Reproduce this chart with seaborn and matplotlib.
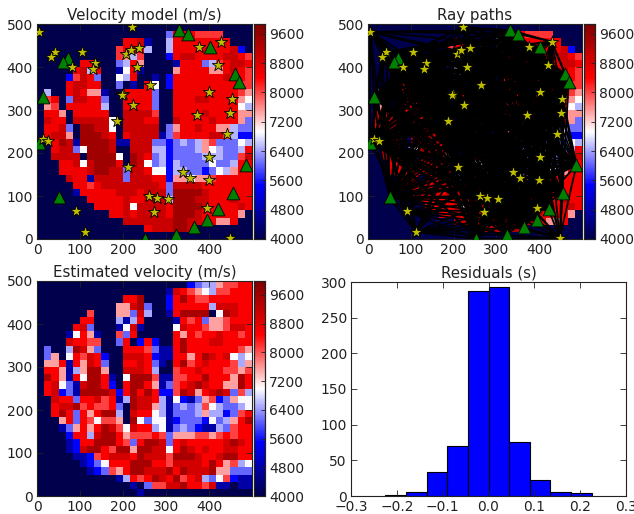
import numpy as np
import matplotlib
matplotlib.use('Agg')
import matplotlib.pyplot as plt
import seaborn as sns

# velocity levels for the codes used in the grids below (m/s)
levels = [4000, 4750, 5500, 6100, 6500, 6950, 7550, 8100, 8550, 9000, 9500]
codes = '0123456789a'

# rows run from the top of the picture to the bottom, three groups of ten cells
true_rows = [
    "0000000000 0000000000 0000000000",
    "0000000000 0000000038 8877770000",
    "0000000000 0088910048 8888888000",
    "0000000000 0789840048 8888888920",
    "0000000000 0764700028 9988889987",
    "0000008800 0348600001 8883478998",
    "0000089480 0158100006 8888668987",
    "0000279830 0548001028 8888889887",
    "0000899880 0301085028 8888888877",
    "0400898661 0088883008 8888888876",
    "0780399883 0088883008 8899888865",
    "0670888884 0088883008 8888888854",
    "0886088888 0099997008 8889888866",
    "0988099999 5099988009 8888988863",
    "088930aa99 5099999036 8898866433",
    "089960aaa9 8089999137 8888997422",
    "008a91aaaa 9119993323 4346733354",
    "0089935aaa 9009994423 3346543348",
    "0099990aaa a50a983423 3334443379",
    "00088959aa a80a953424 3333533488",
    "00088889aa 9939985524 4332354688",
    "0000988199 9939998826 6566788888",
    "0000088789 9999999839 9998888888",
    "0000018888 899989993a aaa9888888",
    "0000000888 889889994a aa99888988",
    "0000000088 889599998a aaa9888898",
    "0000000000 889899998a aa98888860",
    "0000000000 009999999a a998866800",
    "0000000000 000008999a a900000000",
    "0000000000 0000000000 0000000000",
]

estimated_rows = [
    "0000000000 0000000000 0234467788",
    "0000000000 0000000019 8765477888",
    "0000000000 0088a00028 a877888888",
    "0000000000 0669a30028 8888499988",
    "0000000700 0663940018 aaaa05a988",
    "0000008800 0414800001 8783667888",
    "0000089300 0159100005 9887667998",
    "0000158610 0738000008 6878898878",
    "0000988770 0380282008 a888998888",
    "03004a9630 0088873118 a888888876",
    "0360587982 0099982118 868a989545",
    "0668186983 0088983108 a789888746",
    "0886146aa6 0099984007 8898887767",
    "0a86185aa8 105aaa7117 788a8886a8",
    "0895319aa8 208aa86137 89a98866a8",
    "089231aaaa 928a8a8227 a9689a9374",
    "0098838897 814a998415 2136723655",
    "00899a7877 830a996413 4347543345",
    "008a83868a a409885413 3346442378",
    "0006838757 760a535512 333253468a",
    "000136868a 9759884513 4321143788",
    "000028849a a867778736 6677678788",
    "00001288aa a8738aa938 9888889a98",
    "0000129aa8 7aa6aa9958 a989889988",
    "0000011278 9998a9997a aa9889aa88",
    "0000001235 888aaa8879 9998a86745",
    "0000000123 768aa999a8 a999a66333",
    "0000000000 014878a98a 7894357211",
    "0000000000 0001037799 a887911011",
    "0000000000 0000100000 0000000000",
]

# sources
star_x = [5, 222, 43, 33, 104, 82, 135, 131, 207, 218, 238, 232, 263, 199, 197, 224,
          187, 15, 26, 211, 339, 356, 400, 401, 442, 450, 453, 401, 372, 420, 377, 429,
          261, 278, 304, 271, 395, 90, 111, 448]
star_y = [482, 493, 435, 424, 436, 400, 410, 395, 431, 439, 444, 401, 358, 338, 336, 311,
          274, 233, 229, 168, 156, 141, 137, 191, 245, 293, 325, 342, 289, 405, 447, 459,
          100, 95, 94, 63, 71, 64, 16, 2]

# receivers
tri_x = [331, 351, 403, 460, 469, 487, 455, 422, 395, 365, 324, 252, 51, 5, 15, 71, 61]
tri_y = [486, 477, 446, 384, 365, 172, 106, 69, 44, 27, 9, 1, 97, 224, 331, 421, 411]

# residual histogram
res_edges = [-0.225, -0.18, -0.135, -0.09, -0.045, 0.0, 0.045, 0.09, 0.135, 0.18, 0.225]
res_counts = [1, 6, 33, 70, 288, 293, 76, 22, 6, 4]

W, H = 634, 514
CELL = 500 / 30


def decode(rows):
    # text grid -> velocity array, bottom row first
    vals = [[levels[codes.index(c)] for c in r.replace(' ', '')] for r in rows]
    return np.array(vals)[::-1]


def box(left, top, right, bottom):
    return [left / W, 1 - bottom / H, (right - left) / W, (bottom - top) / H]


def style_axes(ax):
    ax.tick_params(direction='in', length=4, width=0.6, top=True, right=True,
                   bottom=True, left=True, labelsize=10, pad=3, colors='#222222')
    for s in ax.spines.values():
        s.set_visible(True)
        s.set_linewidth(0.8)
        s.set_color('#222222')


def draw_model(grid, ax_box, cax_box, title, vmax, marks=False, rays=False):
    ax = fig.add_axes(box(*ax_box))
    cax = fig.add_axes(box(*cax_box))
    sns.heatmap(grid, ax=ax, cbar_ax=cax, cmap='seismic', vmin=4000, vmax=vmax,
                xticklabels=False, yticklabels=False, rasterized=True)
    ax.set_xlim(0, 30)
    ax.set_ylim(0, 30)
    ax.set_xticks(np.arange(0, 500, 100) / CELL, [str(v) for v in range(0, 500, 100)])
    ax.set_yticks(np.arange(0, 600, 100) / CELL, [str(v) for v in range(0, 600, 100)])
    ax.set_title(title, fontsize=10.8, pad=3, color='#222222')
    style_axes(ax)

    sx = np.array(star_x) / CELL
    sy = np.array(star_y) / CELL
    tx = np.array(tri_x) / CELL
    ty = np.array(tri_y) / CELL
    if rays:
        for a, b in zip(sx, sy):
            for c, d in zip(tx, ty):
                ax.plot([a, c], [b, d], color='k', lw=1.3, zorder=3)
    if marks:
        sns.scatterplot(x=sx, y=sy, ax=ax, marker='*', s=85, color=(0.75, 0.75, 0),
                        edgecolor='k', linewidth=0.6, zorder=5, legend=False)
        sns.scatterplot(x=tx, y=ty, ax=ax, marker='^', s=85, color=(0, 0.5, 0),
                        edgecolor='k', linewidth=0.6, zorder=4, legend=False)

    cax.set_yticks(np.arange(4000, 10000, 800), [str(v) for v in range(4000, 10000, 800)])
    cax.tick_params(direction='in', length=3, width=0.6, labelsize=10, pad=3,
                    right=True, colors='#222222')
    for s in cax.spines.values():
        s.set_visible(True)
        s.set_linewidth(0.8)
        s.set_color('#222222')


fig = plt.figure(figsize=(W / 100, H / 100), dpi=100)

true_grid = decode(true_rows)
est_grid = decode(estimated_rows)

draw_model(true_grid, (37, 24, 252, 239), (254, 24, 265, 239), 'Velocity model (m/s)', 9870, marks=True)
draw_model(true_grid, (368, 24, 582, 239), (584, 24, 595, 239), 'Ray paths', 9870, marks=True, rays=True)
draw_model(est_grid, (37, 281, 252, 496), (254, 281, 265, 496), 'Estimated velocity (m/s)', 9990)

ax = fig.add_axes(box(351, 282, 626, 496))
centers = (np.array(res_edges[:-1]) + np.array(res_edges[1:])) / 2
sns.histplot(x=centers, weights=res_counts, bins=res_edges, ax=ax, color='blue',
             alpha=1, edgecolor='k', linewidth=0.8)
ax.set_xlim(-0.3, 0.3)
ax.set_ylim(0, 300)
ax.set_ylabel('')
ax.set_title('Residuals (s)', fontsize=10.8, pad=3, color='#222222')
style_axes(ax)

fig.savefig('out.png', dpi=100)
